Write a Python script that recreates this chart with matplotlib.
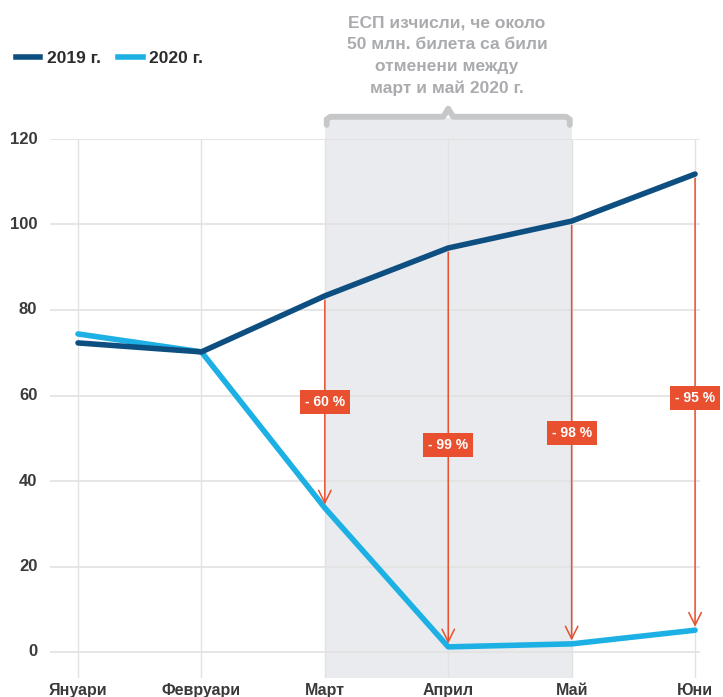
import matplotlib
matplotlib.use("Agg")
import matplotlib.pyplot as plt
from matplotlib.lines import Line2D
from matplotlib.patches import Rectangle

plt.rcParams['font.family'] = ['Liberation Sans', 'DejaVu Sans']

months = ["Януари", "Февруари", "Март", "Април", "Май", "Юни"]
v2019 = [72.3, 70.2, 83.3, 94.5, 100.8, 111.8]
v2020 = [74.4, 70.2, 33.7, 1.2, 1.9, 5.1]
drop_labels = ["- 60 %", "- 99 %", "- 98 %", "- 95 %"]
drop_months = [2, 3, 4, 5]
label_y = [58.5, 48.4, 51.2, 59.4]
yticks = [0, 20, 40, 60, 80, 100, 120]
note = "ЕСП изчисли, че около\n50 млн. билета са били\nотменени между\nмарт и май 2020 г."

C19 = "#0e4f82"
C20 = "#1cb0e4"
RED = "#e8502f"
GRID = "#e2e2e2"
SHADE = "#e9ebee"

W, H = 723, 697
fig = plt.figure(figsize=(W / 100, H / 100), dpi=100)
ax_left, ax_right = 50, 700
ax_top, ax_bot = 139, 678
ax = fig.add_axes([ax_left / W, 1 - ax_bot / H, (ax_right - ax_left) / W, (ax_bot - ax_top) / H])
ymin = -(ax_bot - 652) / 4.275
ax.set_ylim(ymin, 120)
ax.set_xlim(-0.227, 5.04)
for s in ax.spines.values():
    s.set_visible(False)
ax.set_xticks([])
ax.set_yticks([])

x = list(range(len(months)))

# shaded region Mar-May
ax.add_patch(Rectangle((2, ymin), 2, 125 - ymin, facecolor=SHADE, edgecolor='none',
                       zorder=0, clip_on=False))
# brace
bx0, bx1, by = 2.015, 3.985, 125.2
ax.plot([bx0, bx0, bx0 + 0.03, 2.96, 3.0, 3.04, bx1 - 0.03, bx1, bx1],
        [123.3, by - 0.6, by, by, by + 1.9, by, by, by - 0.6, 123.3],
        color="#c6c7c9", lw=4.2, solid_joinstyle='round', solid_capstyle='round',
        clip_on=False, zorder=1)

# gridlines
for yv in yticks:
    ax.axhline(yv, color=GRID, lw=1.2, zorder=1)
    ax.text(-0.33, yv, str(yv), ha='right', va='center', fontsize=12, fontweight='bold',
            color="#3a3a3a", clip_on=False)
for xi in x:
    ax.plot([xi, xi], [ymin, 120], color=GRID, lw=1.0, zorder=1)
    ax.text(xi, -8.9, months[xi], ha='center', va='center', fontsize=11.5, fontweight='bold',
            color="#3a3a3a", clip_on=False)

# lines
ax.plot(x, v2020, color=C20, lw=4.0, solid_capstyle='round', solid_joinstyle='round', zorder=4)
ax.plot(x, v2019, color=C19, lw=4.0, solid_capstyle='round', solid_joinstyle='round', zorder=5)

# arrows and labels
for i, m in enumerate(drop_months):
    ax.annotate("", xy=(m, v2020[m] + 0.8), xytext=(m, v2019[m] - 1.0),
                arrowprops=dict(arrowstyle="->,head_length=0.9,head_width=0.45",
                                color=RED, lw=1.1, shrinkA=0, shrinkB=0), zorder=6)
    ax.text(m, label_y[i], drop_labels[i], ha='center', va='center', fontsize=10,
            fontweight='bold', color='white', zorder=7,
            bbox=dict(boxstyle='square,pad=0.35', facecolor=RED, edgecolor='none'))

# note text
fig.text(447 / W, 1 - 56 / H, note, ha='center', va='center', fontsize=12.5,
         fontweight='bold', color="#a9abae", linespacing=1.55)

# legend
handles = [Line2D([], [], color=C19, lw=4), Line2D([], [], color=C20, lw=4)]
fig.legend(handles, ["2019 г.", "2020 г."], loc='center left',
           bbox_to_anchor=(0.0, 1 - 58 / H), ncol=2, frameon=False, handlelength=1.4,
           handletextpad=0.4, columnspacing=1.0, prop=dict(weight='bold', size=12.5),
           labelcolor="#2b2b2b")

fig.savefig("out.png", dpi=100)
